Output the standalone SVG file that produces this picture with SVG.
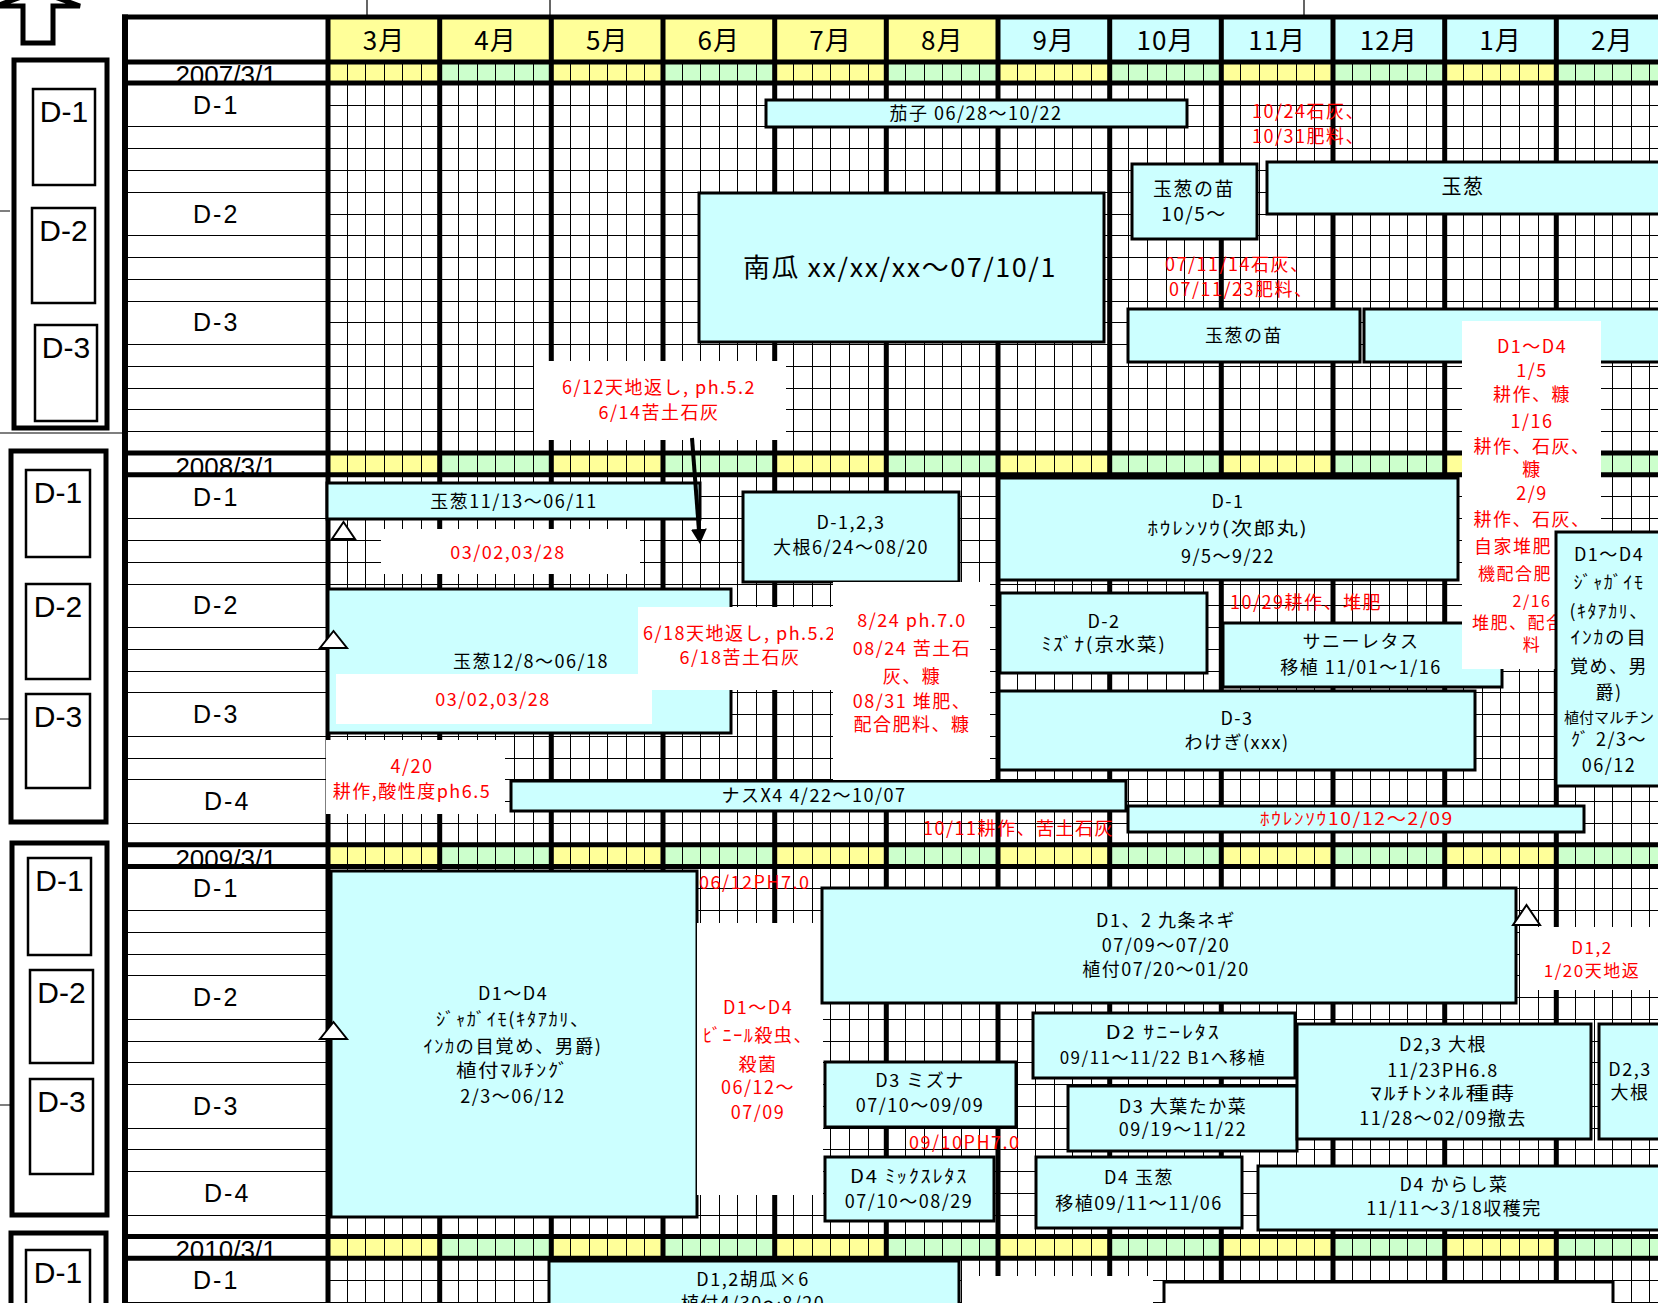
<svg xmlns="http://www.w3.org/2000/svg" width="1658" height="1303" viewBox="0 0 1658 1303">
<defs>
<style>
.t{font-family:"Noto Sans CJK JP","Noto Sans",sans-serif;font-size:18px;letter-spacing:1.5px;fill:#000;text-anchor:middle}
.r{font-family:"Noto Sans CJK JP","Noto Sans",sans-serif;font-size:18px;letter-spacing:1.5px;fill:#f00}
.rm{font-family:"Noto Sans CJK JP","Noto Sans",sans-serif;font-size:18px;letter-spacing:1.5px;fill:#f00;text-anchor:middle}
.lb{font-family:"Liberation Sans",Arial,sans-serif;font-size:25px;letter-spacing:2px;fill:#000}
.lbm{font-family:"Liberation Sans",Arial,sans-serif;font-size:30px;fill:#000;text-anchor:middle}
.mo{font-family:"Noto Sans CJK JP","Noto Sans",sans-serif;font-size:26px;letter-spacing:1px;text-anchor:middle;fill:#000}
.dt{font-family:"Liberation Sans",Arial,sans-serif;font-size:26px;text-anchor:middle;fill:#000}
.bx{fill:#CCFFFF;stroke:#000;stroke-width:3}
.wbx{fill:#fff;stroke:#000;stroke-width:3}
.wn{fill:#fff}
.tk{stroke:#000;stroke-width:5;fill:none}
.tn{stroke:#000;stroke-width:1;fill:none}
.tri{fill:#fff;stroke:#000;stroke-width:2}
.pn{fill:#fff;stroke:#000;stroke-width:5}
.pi{fill:#fff;stroke:#000;stroke-width:2.5}
</style>
<pattern id="drow" patternUnits="userSpaceOnUse" x="328" y="0" width="223.333" height="1400">
<rect width="111.667" height="1400" fill="#FFFF99"/>
<rect x="111.667" width="111.667" height="1400" fill="#CCFFCC"/>
</pattern>
<marker id="ah" markerUnits="userSpaceOnUse" markerWidth="16" markerHeight="16" refX="2" refY="8" orient="auto">
<path d="M0 0L15 8L0 16z" fill="#000"/>
</marker>
</defs>

<rect width="1658" height="1303" fill="#fff"/>

<g id="table">
<rect x="328" y="17" width="670" height="45" fill="#FFFF99"/>
<rect x="998" y="17" width="670" height="45" fill="#CCFFFF"/>
<rect x="328" y="62" width="1330" height="21" fill="url(#drow)"/>
<rect x="328" y="453" width="1330" height="21.8" fill="url(#drow)"/>
<rect x="328" y="844.8" width="1330" height="21.7" fill="url(#drow)"/>
<rect x="328" y="1236.5" width="1330" height="21.8" fill="url(#drow)"/>
<path class="tn" d="M347.5 62V1303M365.5 62V1303M384.5 62V1303M402.5 62V1303M421.5 62V1303M458.5 62V1303M477.5 62V1303M495.5 62V1303M514.5 62V1303M533.5 62V1303M570.5 62V1303M589.5 62V1303M607.5 62V1303M626.5 62V1303M644.5 62V1303M682.5 62V1303M700.5 62V1303M719.5 62V1303M737.5 62V1303M756.5 62V1303M793.5 62V1303M812.5 62V1303M830.5 62V1303M849.5 62V1303M868.5 62V1303M905.5 62V1303M924.5 62V1303M942.5 62V1303M961.5 62V1303M979.5 62V1303M1017.5 62V1303M1035.5 62V1303M1054.5 62V1303M1072.5 62V1303M1091.5 62V1303M1128.5 62V1303M1147.5 62V1303M1166.5 62V1303M1184.5 62V1303M1203.5 62V1303M1240.5 62V1303M1259.5 62V1303M1277.5 62V1303M1296.5 62V1303M1314.5 62V1303M1352.5 62V1303M1370.5 62V1303M1389.5 62V1303M1407.5 62V1303M1426.5 62V1303M1463.5 62V1303M1482.5 62V1303M1500.5 62V1303M1519.5 62V1303M1538.5 62V1303M1575.5 62V1303M1594.5 62V1303M1612.5 62V1303M1631.5 62V1303M1649.5 62V1303"/>
<path class="tn" d="M328 105.5H1658M125 126.5H1658M125 148.5H1658M125 170.5H1658M125 192.5H1658M328 214.5H1658M125 235.5H1658M125 257.5H1658M125 279.5H1658M125 301.5H1658M328 322.5H1658M125 344.5H1658M125 366.5H1658M125 388.5H1658M125 409.5H1658M125 431.5H1658
M328 496.5H1658M125 518.5H1658M125 540.5H1658M125 562.5H1658M125 584.5H1658M328 605.5H1658M125 627.5H1658M125 649.5H1658M125 671.5H1658M125 692.5H1658M328 714.5H1658M125 736.5H1658M125 758.5H1658M125 779.5H1658M328 801.5H1658M125 823.5H1658
M328 888.5H1658M125 910.5H1658M125 932.5H1658M125 954.5H1658M125 975.5H1658M328 997.5H1658M125 1019.5H1658M125 1041.5H1658M125 1062.5H1658M125 1084.5H1658M328 1106.5H1658M125 1128.5H1658M125 1149.5H1658M125 1171.5H1658M328 1193.5H1658M125 1215.5H1658
M328 1280.5H1658M125 1302.5H1658"/>
<text class="dt" x="226" y="84">2007/3/1</text>
<text class="dt" x="226" y="476">2008/3/1</text>
<text class="dt" x="226" y="867.5">2009/3/1</text>
<text class="dt" x="226" y="1259.3">2010/3/1</text>
<path class="tk" d="M122 17H1658M122 62H1658M122 83H1658M122 453H1658M122 474.8H1658M122 844.8H1658M122 866.5H1658M122 1236.5H1658M122 1258.3H1658"/>
<path class="tk" d="M328 17V1303M439.7 17V1303M551.3 17V1303M663 17V1303M774.7 17V1303M886.3 17V1303M998 17V1303M1109.7 17V1303M1221.3 17V1303M1333 17V1303M1444.7 17V1303M1556.3 17V1303"/>
<path d="M125 14.5V1303" stroke="#000" stroke-width="6"/>
<text class="mo" x="384" y="49.5">3月</text>
<text class="mo" x="495.5" y="49.5">4月</text>
<text class="mo" x="607.2" y="49.5">5月</text>
<text class="mo" x="718.8" y="49.5">6月</text>
<text class="mo" x="830.5" y="49.5">7月</text>
<text class="mo" x="942.2" y="49.5">8月</text>
<text class="mo" x="1053.8" y="49.5">9月</text>
<text class="mo" x="1165.5" y="49.5">10月</text>
<text class="mo" x="1277.2" y="49.5">11月</text>
<text class="mo" x="1388.8" y="49.5">12月</text>
<text class="mo" x="1500.5" y="49.5">1月</text>
<text class="mo" x="1612.2" y="49.5">2月</text>
<text class="lb" x="193" y="114">D-1</text>
<text class="lb" x="193" y="222.6">D-2</text>
<text class="lb" x="193" y="331.4">D-3</text>
<text class="lb" x="193" y="505.5">D-1</text>
<text class="lb" x="193" y="614.4">D-2</text>
<text class="lb" x="193" y="723.2">D-3</text>
<text class="lb" x="204" y="810.2">D-4</text>
<text class="lb" x="193" y="897.3">D-1</text>
<text class="lb" x="193" y="1006.1">D-2</text>
<text class="lb" x="193" y="1115">D-3</text>
<text class="lb" x="204" y="1202">D-4</text>
<text class="lb" x="193" y="1289.1">D-1</text>
</g>

<g id="marks">
<path d="M367 0V15M550 0V15M1304 0V15M0 211H10M0 433H122M0 719H10M0 1105H10" stroke="#000" stroke-width="1.2" fill="none"/>
<polygon points="23,43 53,43 53,6 80,6 38,-9 -4,6 23,6" fill="#fff" stroke="#000" stroke-width="5"/>
</g>

<g id="panel-2007">
<rect class="pn" x="14" y="60" width="93" height="368"/>
<rect class="pi" x="33" y="89" width="62" height="96"/><text class="lbm" x="64" y="122">D-1</text>
<rect class="pi" x="32" y="208" width="63" height="95"/><text class="lbm" x="63.5" y="241">D-2</text>
<rect class="pi" x="35" y="325" width="62" height="96"/><text class="lbm" x="66" y="358">D-3</text>
</g>
<g id="panel-2008">
<rect class="pn" x="11" y="451" width="95" height="371"/>
<rect class="pi" x="26" y="470" width="64" height="87"/><text class="lbm" x="58" y="503">D-1</text>
<rect class="pi" x="26" y="584" width="64" height="95"/><text class="lbm" x="58" y="617">D-2</text>
<rect class="pi" x="26" y="694" width="64" height="94"/><text class="lbm" x="58" y="727">D-3</text>
</g>
<g id="panel-2009">
<rect class="pn" x="12" y="843" width="95" height="372"/>
<rect class="pi" x="28" y="858" width="63" height="97"/><text class="lbm" x="59.5" y="891">D-1</text>
<rect class="pi" x="30" y="970" width="63" height="93"/><text class="lbm" x="61.5" y="1003">D-2</text>
<rect class="pi" x="30" y="1079" width="63" height="95"/><text class="lbm" x="61.5" y="1112">D-3</text>
</g>
<g id="panel-2010">
<rect class="pn" x="11" y="1233" width="95" height="80"/>
<rect class="pi" x="26" y="1250" width="64" height="60"/><text class="lbm" x="58" y="1283">D-1</text>
</g>

<g id="n2007-nasu"><rect class="bx" x="766" y="100" width="421" height="27"/><text class="t" x="976" y="120">茄子 06/28〜10/22</text></g>
<g id="n2007-naeA"><rect class="bx" x="1132" y="164" width="125" height="75"/><text class="t" style="font-size:19px"><tspan x="1194" y="196">玉葱の苗</tspan><tspan x="1194" y="221">10/5〜</tspan></text></g>
<g id="n2007-tamanegi"><rect class="bx" x="1267" y="162" width="395" height="52"/><text class="t" style="font-size:20px" x="1463" y="194">玉葱</text></g>
<g id="n2007-kabocha"><rect class="bx" x="699" y="193" width="405" height="149"/><text class="t" style="font-size:26px" x="900" y="277" textLength="314" lengthAdjust="spacingAndGlyphs">南瓜 xx/xx/xx〜07/10/1</text></g>
<g id="n2007-naeB"><rect class="bx" x="1128" y="309" width="232" height="53"/><text class="t" x="1244" y="342">玉葱の苗</text></g>
<g id="n2007-box6"><rect class="bx" x="1364" y="309" width="298" height="53"/></g>
<g id="t2007-a"><text class="r"><tspan x="1252" y="118">10/24石灰、</tspan><tspan x="1252" y="143">10/31肥料、</tspan></text></g>
<g id="t2007-b"><text class="r"><tspan x="1165" y="271">07/11/14石灰、</tspan><tspan x="1169" y="296">07/11/23肥料、</tspan></text></g>
<g id="note2007-tenchi"><rect class="wn" x="534" y="361" width="252" height="79"/><text class="rm"><tspan x="659" y="394">6/12天地返し, ph.5.2</tspan><tspan x="659" y="419">6/14苦土石灰</tspan></text></g>

<g id="n2008-tamanegiA"><rect class="bx" x="327" y="483" width="373" height="36"/><text class="t" x="514" y="508">玉葱11/13〜06/11</text></g>
<g id="n2008-daikon"><rect class="bx" x="743" y="492" width="216" height="90"/><text class="t"><tspan x="851" y="529">D-1,2,3</tspan><tspan x="851" y="554">大根6/24〜08/20</tspan></text></g>
<g id="n2008-hourensou"><rect class="bx" x="999" y="478" width="459" height="102"/><text class="t" x="1228" y="508">D-1</text><text class="t" x="1228" y="535" textLength="161" lengthAdjust="spacingAndGlyphs">ﾎｳﾚﾝｿｳ(次郎丸)</text><text class="t" x="1228" y="563">9/5〜9/22</text></g>
<g id="n2008-mizuna"><rect class="bx" x="1000" y="593" width="207" height="80"/><text class="t" x="1104" y="628">D-2</text><text class="t" x="1104" y="651" textLength="125" lengthAdjust="spacingAndGlyphs">ﾐｽﾞﾅ(京水菜)</text></g>
<g id="n2008-sunny"><rect class="bx" x="1223" y="623" width="279" height="64"/><text class="t"><tspan x="1361" y="648">サニーレタス</tspan><tspan x="1361" y="674">移植 11/01〜1/16</tspan></text></g>
<g id="n2008-wakegi"><rect class="bx" x="999" y="691" width="476" height="79"/><text class="t"><tspan x="1237" y="725">D-3</tspan><tspan x="1237" y="749">わけぎ(xxx)</tspan></text></g>
<g id="n2008-tamanegiB"><rect class="bx" x="328" y="589" width="403" height="144"/><text class="t" x="531" y="668">玉葱12/8〜06/18</text></g>
<g id="n2008-nasu"><rect class="bx" x="511" y="781" width="615" height="30"/><text class="t" x="814" y="802">ナスX4 4/22〜10/07</text></g>
<g id="n2008-hourensouB"><rect class="bx" x="1128" y="806" width="456" height="26"/><text class="rm" style="font-size:17px" x="1357" y="825" textLength="194" lengthAdjust="spacingAndGlyphs">ﾎｳﾚﾝｿｳ10/12〜2/09</text></g>
<g id="note2008-a"><rect class="wn" x="381" y="529" width="259" height="45"/><text class="rm" x="508" y="559">03/02,03/28</text></g>
<g id="note2008-b"><rect class="wn" x="336" y="674" width="316" height="50"/><text class="rm" x="493" y="706">03/02,03/28</text></g>
<g id="note2008-c"><rect class="wn" x="638" y="607" width="195" height="83"/><text class="rm"><tspan x="740" y="640">6/18天地返し, ph.5.2</tspan><tspan x="740" y="664">6/18苦土石灰</tspan></text></g>
<g id="note2008-d"><rect class="wn" x="833" y="582" width="157" height="198"/><text class="rm"><tspan x="912" y="627">8/24 ph.7.0</tspan><tspan x="912" y="655">08/24 苦土石</tspan><tspan x="912" y="683">灰、糠</tspan><tspan x="912" y="708">08/31 堆肥、</tspan><tspan x="912" y="731">配合肥料、糠</tspan></text></g>
<g id="note2008-e"><rect class="wn" x="326" y="740" width="179" height="74"/><text class="rm"><tspan x="412" y="773">4/20</tspan><tspan x="412" y="798">耕作,酸性度ph6.5</tspan></text></g>
<g id="t2008-a"><text class="r" x="1230" y="609">10/29耕作、堆肥</text></g>
<g id="t2008-b"><text class="r" x="923" y="835">10/11耕作、苦土石灰</text></g>
<g id="note2008-f"><rect class="wn" x="1462" y="321" width="139" height="348"/><text class="rm" style="font-size:18px"><tspan x="1532" y="353">D1〜D4</tspan><tspan x="1532" y="377">1/5</tspan><tspan x="1532" y="401">耕作、糠</tspan><tspan x="1532" y="428">1/16</tspan><tspan x="1532" y="453">耕作、石灰、</tspan><tspan x="1532" y="476">糠</tspan><tspan x="1532" y="500">2/9</tspan><tspan x="1532" y="526">耕作、石灰、</tspan></text>
<text class="r"><tspan x="1474" y="553">自家堆肥</tspan></text>
<text class="r" style="font-size:17px" x="1478" y="580">機配合肥</text>
<text class="rm" style="font-size:16px" x="1532" y="607">2/16</text>
<text class="r" style="font-size:17px" x="1472" y="629">堆肥、配合</text>
<text class="rm" style="font-size:17px" x="1532" y="651">料</text></g>
<g id="n2008-jaga"><rect class="bx" x="1556" y="532" width="106" height="254"/>
<text class="t" x="1609" y="561">D1〜D4</text>
<text class="t" x="1609" y="589" textLength="71" lengthAdjust="spacingAndGlyphs">ｼﾞｬｶﾞｲﾓ</text>
<text class="t" x="1609" y="618" textLength="79" lengthAdjust="spacingAndGlyphs">(ｷﾀｱｶﾘ、</text>
<text class="t" x="1609" y="644" textLength="77" lengthAdjust="spacingAndGlyphs">ｲﾝｶの目</text>
<text class="t"><tspan x="1609" y="673">覚め、男</tspan><tspan x="1609" y="699">爵)</tspan><tspan x="1609" y="723" style="font-size:15px;letter-spacing:0">植付マルチン</tspan><tspan x="1609" y="746">ｸﾞ 2/3〜</tspan><tspan x="1609" y="772">06/12</tspan></text></g>

<g id="n2009-jaga"><rect class="bx" x="331" y="871" width="366" height="346"/>
<text class="t" x="513" y="1000">D1〜D4</text>
<text class="t" x="513" y="1026" textLength="154" lengthAdjust="spacingAndGlyphs">ｼﾞｬｶﾞｲﾓ(ｷﾀｱｶﾘ、</text>
<text class="t" x="513" y="1053" textLength="179" lengthAdjust="spacingAndGlyphs">ｲﾝｶの目覚め、男爵)</text>
<text class="t" x="513" y="1077" textLength="114" lengthAdjust="spacingAndGlyphs">植付ﾏﾙﾁﾝｸﾞ</text>
<text class="t" x="513" y="1103">2/3〜06/12</text></g>
<g id="t2009-a"><text class="r" x="699" y="889">06/12PH7.0</text></g>
<g id="note2009-a"><rect class="wn" x="697" y="923" width="126" height="272"/><text class="rm" x="758" y="1014">D1〜D4</text><text class="rm" x="758" y="1042" textLength="110" lengthAdjust="spacingAndGlyphs">ﾋﾞﾆｰﾙ殺虫、</text><text class="rm"><tspan x="758" y="1071">殺菌</tspan><tspan x="758" y="1094">06/12〜</tspan><tspan x="758" y="1119">07/09</tspan></text></g>
<g id="n2009-negi"><rect class="bx" x="822" y="888" width="694" height="115"/><text class="t"><tspan x="1166" y="927">D1、2 九条ネギ</tspan><tspan x="1166" y="952">07/09〜07/20</tspan><tspan x="1166" y="976">植付07/20〜01/20</tspan></text></g>
<g id="note2009-b"><rect class="wn" x="1520" y="927" width="142" height="63"/><text class="rm" style="font-size:17px"><tspan x="1592" y="954">D1,2</tspan><tspan x="1592" y="977">1/20天地返</tspan></text></g>
<g id="n2009-sunny"><rect class="bx" x="1033" y="1013" width="262" height="65"/><text class="t" x="1163" y="1039" textLength="115" lengthAdjust="spacingAndGlyphs">D2 ｻﾆｰﾚﾀｽ</text><text class="t" style="font-size:17px" x="1163" y="1064">09/11〜11/22 B1へ移植</text></g>
<g id="n2009-takana"><rect class="bx" x="1068" y="1086" width="229" height="65"/><text class="t"><tspan x="1183" y="1113">D3 大葉たか菜</tspan><tspan x="1183" y="1136">09/19〜11/22</tspan></text></g>
<g id="n2009-daikonA"><rect class="bx" x="1297" y="1024" width="294" height="115"/><text class="t"><tspan x="1443" y="1051">D2,3 大根</tspan><tspan x="1443" y="1077">11/23PH6.8</tspan></text><text class="t" x="1443" y="1100" textLength="146" lengthAdjust="spacingAndGlyphs">ﾏﾙﾁﾄﾝﾈﾙ種蒔</text><text class="t" x="1443" y="1125">11/28〜02/09撤去</text></g>
<g id="n2009-daikonB"><rect class="bx" x="1599" y="1024" width="66" height="115"/><text class="t" style="font-size:18px"><tspan x="1630" y="1076">D2,3</tspan><tspan x="1630" y="1099">大根</tspan></text></g>
<g id="n2009-mizuna"><rect class="bx" x="825" y="1062" width="191" height="65"/><text class="t"><tspan x="920" y="1087">D3 ミズナ</tspan><tspan x="920" y="1112">07/10〜09/09</tspan></text></g>
<g id="t2009-b"><text class="r" x="909" y="1149">09/10PH7.0</text></g>
<g id="n2009-mix"><rect class="bx" x="825" y="1157" width="169" height="64"/><text class="t" x="909" y="1183" textLength="118" lengthAdjust="spacingAndGlyphs">D4 ﾐｯｸｽﾚﾀｽ</text><text class="t" x="909" y="1208">07/10〜08/29</text></g>
<g id="n2009-tamanegi"><rect class="bx" x="1036" y="1157" width="206" height="71"/><text class="t"><tspan x="1139" y="1184">D4 玉葱</tspan><tspan x="1139" y="1210">移植09/11〜11/06</tspan></text></g>
<g id="n2009-karashi"><rect class="bx" x="1258" y="1166" width="407" height="64"/><text class="t"><tspan x="1454" y="1191">D4 からし菜</tspan><tspan x="1454" y="1215">11/11〜3/18収穫完</tspan></text></g>

<g id="n2010-kyuri"><rect class="bx" x="549" y="1261" width="410" height="50"/><text class="t"><tspan x="753" y="1286">D1,2胡瓜×6</tspan><tspan x="753" y="1310">植付4/30〜8/20</tspan></text></g>
<g id="note2010-a"><rect class="wn" x="962" y="1276" width="191" height="27"/></g>
<g id="n2010-box"><rect class="wbx" x="1164" y="1282" width="449" height="30"/></g>

<g id="markers">
<polygon class="tri" points="343.5,522 332,539 355,539"/>
<polygon class="tri" points="333.5,631 320,648 347,648"/>
<polygon class="tri" points="333.5,1022 320,1039 347,1039"/>
<polygon class="tri" points="1526.5,905 1513,925 1540,925"/>
</g>

<g id="connectors">
<line x1="692" y1="438" x2="699" y2="531" stroke="#000" stroke-width="4" marker-end="url(#ah)"/>
</g>
</svg>
